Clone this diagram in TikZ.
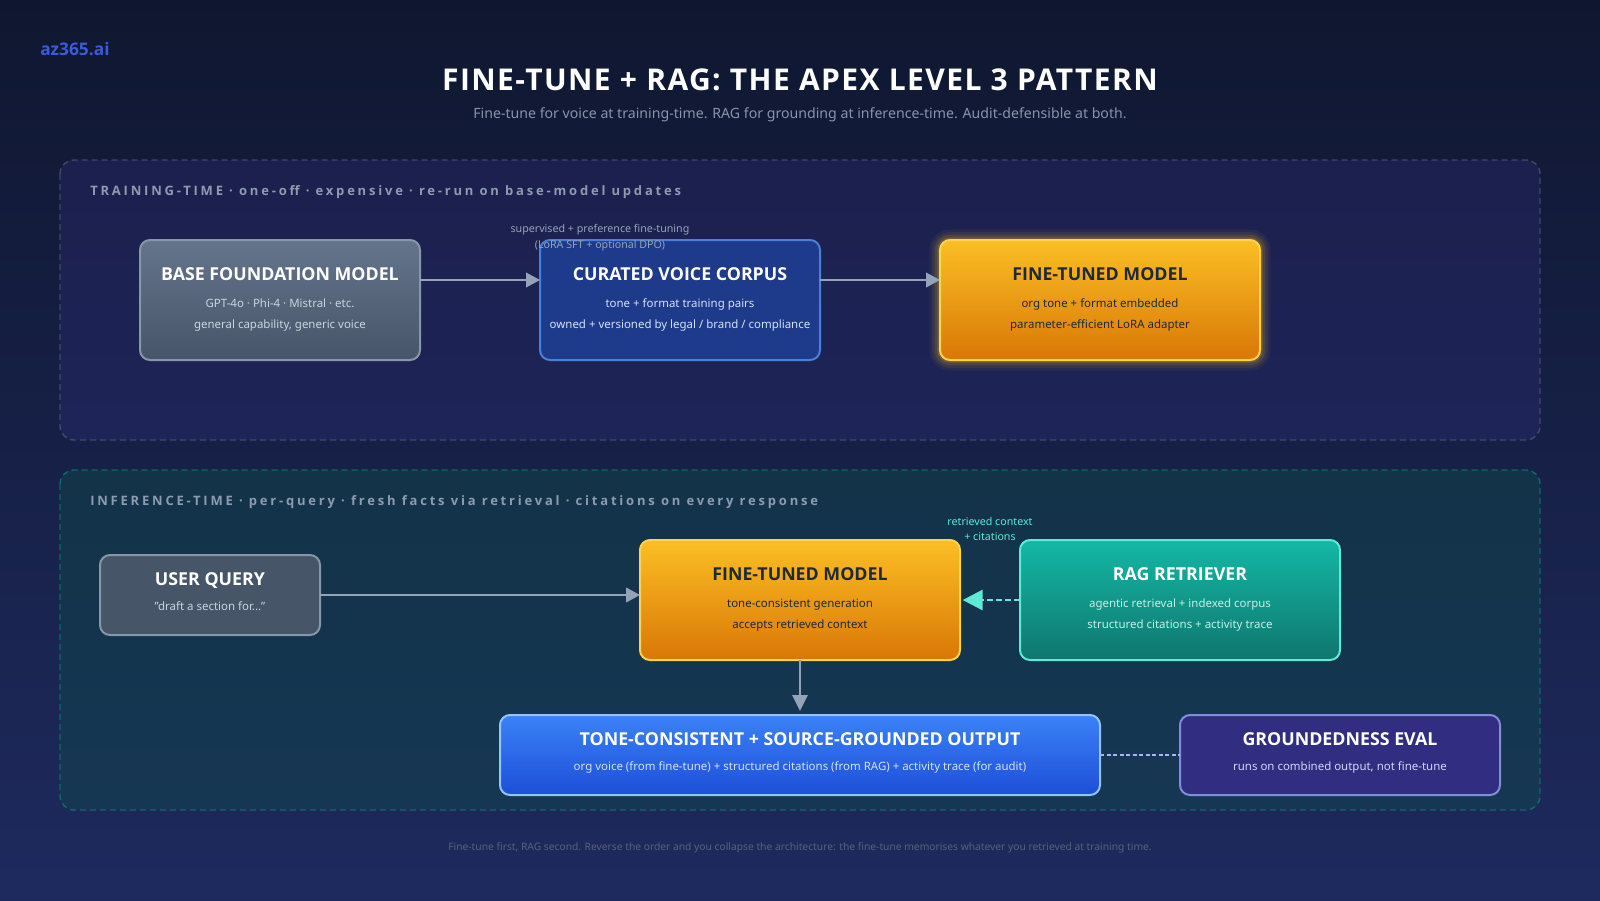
\documentclass[tikz,border=0pt]{standalone}
\usepackage{fontspec}
\usepackage{xcolor}
\usepackage{tikz}
\usetikzlibrary{arrows.meta}
\setmainfont{Noto Sans}
\newfontfamily\heavyfont{Open Sans}
\newfontfamily\titlefont[LetterSpace=4.7]{Open Sans}
\newfontfamily\bandfont[LetterSpace=21.5]{Open Sans}
\definecolor{bgtop}{HTML}{0F1730}
\definecolor{bgbottom}{HTML}{1E2A5E}
\definecolor{flowgrey}{HTML}{94A3B8}
\definecolor{tealmint}{HTML}{5EEAD4}
\definecolor{inktext}{HTML}{1F2937}
\definecolor{softgrey}{HTML}{CBD5E1}
\definecolor{softblue}{HTML}{D5E2F8}
\definecolor{softteal}{HTML}{C4F1E8}
\definecolor{softviolet}{HTML}{D0D6FA}
\tikzset{
  box/.style={draw, line width=1.5pt, rounded corners=7.5pt, inner sep=0pt, outer sep=0pt},
  greybox/.style={box, draw=flowgrey!92!black, top color={rgb,255:red,100;green,116;blue,139}, bottom color={rgb,255:red,71;green,85;blue,105}},
  amberbox/.style={box, draw={rgb,255:red,252;green,211;blue,77}, top color={rgb,255:red,251;green,191;blue,36}, bottom color={rgb,255:red,217;green,119;blue,6}},
  amberglow/.style={
    preaction={draw={rgb,255:red,251;green,191;blue,36}, line width=16pt, draw opacity=.05},
    preaction={draw={rgb,255:red,251;green,191;blue,36}, line width=12pt, draw opacity=.08},
    preaction={draw={rgb,255:red,251;green,191;blue,36}, line width=8pt, draw opacity=.12},
    preaction={draw={rgb,255:red,251;green,191;blue,36}, line width=4pt, draw opacity=.2}},
  boxtitle/.style={font=\fontsize{13.35}{16}\selectfont\heavyfont\bfseries, text=white, inner sep=0pt, anchor=base},
  boxsub/.style={font=\fontsize{8.6}{11}\selectfont, text=#1, inner sep=0pt, anchor=base},
  edgetext/.style={font=\fontsize{8}{10}\selectfont, text=#1, inner sep=0pt, anchor=base},
  bandtext/.style={font=\fontsize{9.75}{12}\selectfont\bandfont\bfseries, text=flowgrey!95!black, inner sep=0pt, anchor=base west},
  flow/.style={draw=flowgrey, line width=1.5pt, -{Triangle[length=10.5pt,width=11pt]}},
}

\begin{document}
\begin{tikzpicture}[x=.75pt, y=-.75pt]

\useasboundingbox (0,0) rectangle (1600,900);
\shade[top color=bgtop, bottom color=bgbottom] (0,0) rectangle (1600,900);

\node [font=\fontsize{13}{15}\selectfont\heavyfont\bfseries, text={rgb,255:red,59;green,91;blue,219}, anchor=base west, inner sep=0pt] (brand) at (40,55) {az365.ai};
\node [font=\fontsize{22.5}{26}\selectfont\titlefont\bfseries, text=white, inner sep=0pt, anchor=base] (headline) at (800,90) {FINE-TUNE + RAG: THE APEX LEVEL 3 PATTERN};
\node [font=\fontsize{10.6}{14}\selectfont, text=flowgrey!90!bgtop, inner sep=0pt, anchor=base] (subline) at (800,118) {Fine-tune for voice at training-time. RAG for grounding at inference-time. Audit-defensible at both.};

% bands
\fill[fill={rgb,255:red,49;green,46;blue,129}, fill opacity=.3, rounded corners=10.5pt] (60,160) rectangle (1540,440);
\draw[draw={rgb,255:red,71;green,85;blue,105}, draw opacity=.8, line width=1.1pt, dash pattern=on 4.5pt off 3pt, rounded corners=10.5pt] (60,160) rectangle (1540,440);
\fill[fill={rgb,255:red,13;green,78;blue,74}, fill opacity=.4, rounded corners=10.5pt] (60,470) rectangle (1540,810);
\draw[draw={rgb,255:red,15;green,118;blue,110}, draw opacity=.8, line width=1.1pt, dash pattern=on 4.5pt off 3pt, rounded corners=10.5pt] (60,470) rectangle (1540,810);

\node [bandtext] (bandone) at (90,195) {TRAINING-TIME · one-off · expensive · re-run on base-model updates};
\node [bandtext] (bandtwo) at (90,505) {INFERENCE-TIME · per-query · fresh facts via retrieval · citations on every response};

% training row
\node [greybox, minimum width=210pt, minimum height=90pt] (basebox) at (280,300) {};
\node [box, draw={rgb,255:red,74;green,128;blue,216}, fill={rgb,255:red,30;green,58;blue,138}, minimum width=210pt, minimum height=90pt] (corpusbox) at (680,300) {};
\node [amberbox, amberglow, minimum width=240pt, minimum height=90pt] (tunedbox) at (1100,300) {};

\node [edgetext=flowgrey] (tuneone) at (600,232) {supervised + preference fine-tuning};
\node [edgetext=flowgrey] (tunetwo) at (600,248) {(LoRA SFT + optional DPO)};

\node [boxtitle] (basetitle) at (280,280) {BASE FOUNDATION MODEL};
\node [boxsub=softgrey] (basea) at (280,307) {GPT-4o · Phi-4 · Mistral · etc.};
\node [boxsub=softgrey] (baseb) at (280,328) {general capability, generic voice};
\node [boxtitle] (corpustitle) at (680,280) {CURATED VOICE CORPUS};
\node [boxsub=softblue] (corpusa) at (680,307) {tone + format training pairs};
\node [boxsub=softblue] (corpusb) at (680,328) {owned + versioned by legal / brand / compliance};
\node [boxtitle, text=inktext] (tunedtitle) at (1100,280) {FINE-TUNED MODEL};
\node [boxsub=inktext] (tuneda) at (1100,307) {org tone + format embedded};
\node [boxsub=inktext] (tunedb) at (1100,328) {parameter-efficient LoRA adapter};

\draw[flow] ([yshift=15pt]basebox.east) -- ([yshift=15pt]corpusbox.west);
\draw[flow] ([yshift=15pt]corpusbox.east) -- ([yshift=15pt]tunedbox.west);

% inference row
\node [box, draw=flowgrey!92!black, fill={rgb,255:red,71;green,85;blue,105}, minimum width=165pt, minimum height=60pt] (querybox) at (210,595) {};
\node [amberbox, minimum width=240pt, minimum height=90pt] (genbox) at (800,600) {};
\node [box, draw=tealmint, top color={rgb,255:red,20;green,184;blue,166}, bottom color={rgb,255:red,15;green,118;blue,110}, minimum width=240pt, minimum height=90pt] (ragbox) at (1180,600) {};
\node [box, draw={rgb,255:red,147;green,197;blue,253}, top color={rgb,255:red,59;green,130;blue,246}, bottom color={rgb,255:red,29;green,78;blue,216}, minimum width=450pt, minimum height=60pt] (outbox) at (800,755) {};
\node [box, draw={rgb,255:red,129;green,140;blue,220}, fill={rgb,255:red,49;green,46;blue,129}, minimum width=240pt, minimum height=60pt] (evalbox) at (1340,755) {};

\node [edgetext=tealmint] (ctxone) at (990,525) {retrieved context};
\node [edgetext=tealmint] (ctxtwo) at (990,540) {+ citations};

\node [boxtitle] (querytitle) at (210,585) {USER QUERY};
\node [boxsub=softgrey] (querya) at (210,610) {"draft a section for..."};
\node [boxtitle, text=inktext] (gentitle) at (800,580) {FINE-TUNED MODEL};
\node [boxsub=inktext] (gena) at (800,607) {tone-consistent generation};
\node [boxsub=inktext] (genb) at (800,628) {accepts retrieved context};
\node [boxtitle] (ragtitle) at (1180,580) {RAG RETRIEVER};
\node [boxsub=softteal] (raga) at (1180,607) {agentic retrieval + indexed corpus};
\node [boxsub=softteal] (ragb) at (1180,628) {structured citations + activity trace};
\node [boxtitle] (outtitle) at (800,745) {TONE-CONSISTENT + SOURCE-GROUNDED OUTPUT};
\node [boxsub=softblue] (outa) at (800,770) {org voice (from fine-tune) + structured citations (from RAG) + activity trace (for audit)};
\node [boxtitle] (evaltitle) at (1340,745) {GROUNDEDNESS EVAL};
\node [boxsub=softviolet] (evala) at (1340,770) {runs on combined output, not fine-tune};

\draw[flow] (querybox.east) -- (querybox.east -| genbox.west);
\draw[flow, -{Triangle[length=12pt,width=11.5pt]}, shorten >=3pt] (genbox.south) -- (outbox.north);
\draw[flow, draw=tealmint, line width=2.2pt, dash pattern=on 4.5pt off 2.25pt, -{Triangle[length=15pt,width=15pt,fill=tealmint]}, shorten >=2pt] (ragbox.west) -- (genbox.east);
\draw[draw={rgb,255:red,165;green,180;blue,252}, line width=1.5pt, dash pattern=on 3pt off 1.9pt] (outbox.east) -- (evalbox.west);

\node [font=\fontsize{7.7}{10}\selectfont, text={rgb,255:red,86;green,98;blue,121}, inner sep=0pt, anchor=base] (closing) at (800,850) {Fine-tune first, RAG second. Reverse the order and you collapse the architecture: the fine-tune memorises whatever you retrieved at training time.};

\end{tikzpicture}
\end{document}
